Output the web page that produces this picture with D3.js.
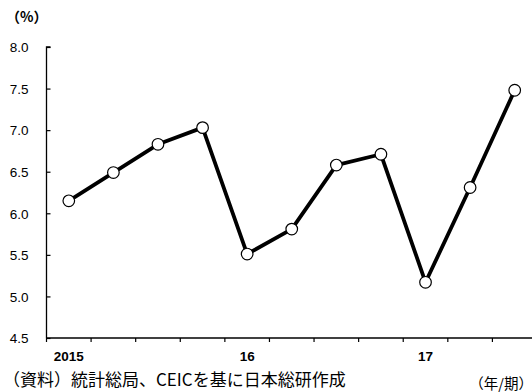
<!DOCTYPE html>
<html><head><meta charset="utf-8">
<script src="https://cdn.jsdelivr.net/npm/d3@7"></script>
<style>body{margin:0;background:#fff}svg{display:block}text{font-family:"Liberation Sans",Arial,sans-serif}</style>
</head><body>
<script>
const categories = ["2015Q1","2015Q2","2015Q3","2015Q4","2016Q1","2016Q2","2016Q3","2016Q4","2017Q1","2017Q2","2017Q3"];
const values = [6.15,6.49,6.83,7.03,5.51,5.81,6.58,6.71,5.17,6.31,7.48];
const xTickLabels = {"2015Q1":"2015","2016Q1":"16","2017Q1":"17"};
const yTicks = [4.5,5.0,5.5,6.0,6.5,7.0,7.5,8.0];

const W=532,H=392;
const svg=d3.select("body").append("svg").attr("width",W).attr("height",H);
const x0=46.5, x1=537, yTop=47, yBot=338;
const x=d3.scaleBand().domain(categories).range([x0,x1]);
const y=d3.scaleLinear().domain([4.5,8.0]).range([yBot,yTop]);

// y axis
const ya=svg.append("g").attr("transform",`translate(${x0},0)`)
 .call(d3.axisRight(y).tickValues(yTicks).tickSize(4).tickFormat(d3.format(".1f")));
ya.select(".domain").attr("stroke","#000").attr("stroke-width",1.3).attr("d",`M4,${yTop}H0V${yBot}`);
ya.selectAll(".tick line").attr("stroke","#000").attr("stroke-width",1.2);
ya.selectAll(".tick text").attr("x",-18).attr("text-anchor","end").attr("font-size",13.5).attr("fill","#000").attr("dy","0.35em");

// x axis
const xa=svg.append("g").attr("transform",`translate(0,${yBot})`)
 .call(d3.axisBottom(x).tickSize(0).tickFormat(d=>xTickLabels[d]||""));
xa.select(".domain").attr("stroke","#000").attr("stroke-width",1.3).attr("d",`M${x0},0H${W}`);
xa.selectAll(".tick text").attr("font-size",13.5).attr("fill","#000").attr("y",13).attr("font-weight","bold");
const edges=categories.map(c=>x(c)).concat([x1]);
svg.append("g").selectAll("line").data(edges).join("line")
 .attr("x1",d=>d).attr("x2",d=>d).attr("y1",yBot).attr("y2",yBot+4)
 .attr("stroke","#000").attr("stroke-width",1.2);

// line
const line=d3.line().x((d,i)=>x(categories[i])+x.bandwidth()/2).y(d=>y(d));
svg.append("path").datum(values).attr("d",line).attr("fill","none")
 .attr("stroke","#000").attr("stroke-width",3.8).attr("stroke-linejoin","round");
svg.append("g").selectAll("circle").data(values).join("circle")
 .attr("cx",(d,i)=>x(categories[i])+x.bandwidth()/2).attr("cy",d=>y(d)).attr("r",5.8)
 .attr("fill","#fff").attr("stroke","#000").attr("stroke-width",1.2);

svg.append("text").attr("x",6).attr("y",22).attr("font-size",14).attr("font-weight","bold")
 .style("font-family","'Noto Sans CJK JP',sans-serif").text("（%）");
svg.append("text").attr("x",3).attr("y",386).attr("font-size",17)
 .style("font-family","'Noto Sans CJK JP',sans-serif").text("（資料）統計総局、CEICを基に日本総研作成");
svg.append("text").attr("x",533).attr("y",389).attr("text-anchor","end").attr("font-size",14.5)
 .style("font-family","'Noto Sans CJK JP',sans-serif").text("（年/期）");
</script>
</body></html>
